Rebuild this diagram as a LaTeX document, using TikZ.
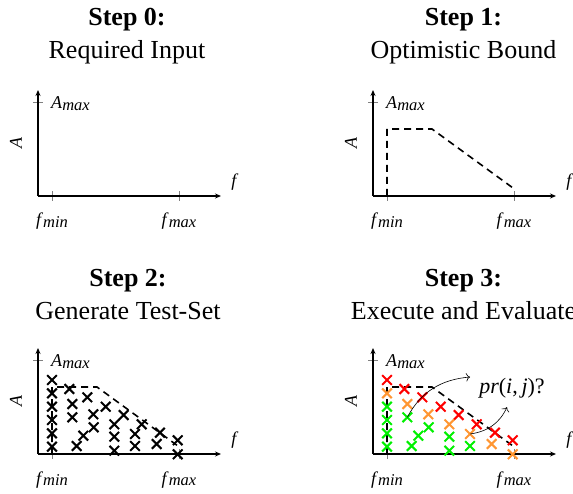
\documentclass[tikz,border=0pt]{standalone}
\usepackage{fontspec}
\setmainfont{Liberation Serif}
\usetikzlibrary{arrows.meta,shapes.misc,calc}

\definecolor{passgreen}{RGB}{0,240,0}
\definecolor{warnorange}{RGB}{255,150,50}
\definecolor{failred}{RGB}{255,0,0}

% italic symbol with its index, as in the axis labels
\newcommand{\symidx}[2]{\textit{#1}\raisebox{-1.5pt}{\fontsize{16.5}{16.5}\selectfont\itshape #2}}

% test points: x offset / y offset / colour after evaluation
\newcommand{\testset}{%
  14/74/failred, 14/60.7/warnorange, 14/47.3/passgreen, 14/34/passgreen,
  14/20.7/passgreen, 14/7.3/passgreen,
  31.3/65/failred, 49.3/56.7/failred, 67.7/47.3/failred, 85.7/39/failred,
  103.7/29.7/failred, 122/21.3/failred, 139.7/13.7/failred,
  34.3/50/warnorange, 55.3/39.7/warnorange, 76.3/29.7/warnorange,
  97/20/warnorange, 118.7/10/warnorange, 139.7/-0.3/warnorange,
  34.3/36.7/passgreen, 55.7/26.7/passgreen, 45.3/18.3/passgreen,
  38.7/8/passgreen, 76.3/17.3/passgreen, 76.3/3.3/passgreen, 97/8/passgreen}

\begin{document}
\begin{tikzpicture}[x=1pt, y=1pt,
    axis/.style={line width=1.1pt, -{Stealth[length=6pt, width=5pt]}},
    tickmark/.style={gray, line width=0.5pt},
    bound/.style={line width=1.6pt, dash pattern=on 7pt off 5pt},
    lbl/.style={font=\fontsize{18}{18}\selectfont, inner sep=0pt},
    steptitle/.style={font=\fontsize{26}{33}\selectfont, align=center,
      inner sep=0pt, anchor=base},
    testpt/.style={cross out, draw, line width=2.1pt, minimum size=7.5pt,
      inner sep=0pt}]
  \useasboundingbox (0,0) rectangle (573,493);

  % titles (base = second line)
  \node[steptitle] (t0) at (127,434.5) {\textbf{Step 0:}\\Required Input};
  \node[steptitle] (t1) at (463.5,434.5) {\textbf{Step 1:}\\Optimistic Bound};
  \node[steptitle] (t2) at (128,173) {\textbf{Step 2:}\\Generate Test-Set};
  \node[steptitle] (t3) at (463.5,173) {\textbf{Step 3:}\\Execute and Evaluate};

  % the four empty plots
  \foreach \ox/\oy/\n in {38/297/0, 373/297/1, 38/39/2, 373/39/3} {
    \begin{scope}[shift={(\ox,\oy)}]
      \draw[tickmark] (14,-5) -- (14,5);
      \draw[tickmark] (141,-5) -- (141,5);
      \draw[tickmark] (-5,94) -- (5,94);
      \draw[axis] (0,0) -- (0,106);
      \draw[axis] (0,0) -- (183,0);
      \node[lbl, anchor=base west] (amax\n) at (13,87) {\symidx{A}{max}};
      \node[lbl, rotate=90] (ylab\n) at (-22,53) {\textit{A}};
      \node[lbl] (xlab\n) at (197,14) {\textit{f}};
      \node[lbl, anchor=base] (fmin\n) at (14,-30) {\symidx{f}{min}};
      \node[lbl, anchor=base] (fmax\n) at (141,-30) {\symidx{f}{max}};
    \end{scope}
  }

  % optimistic bound
  \foreach \ox/\oy in {373/297, 38/39, 373/39} {
    \draw[bound, shift={(\ox,\oy)}] (14,0) -- (14,67) -- (59,67) -- (140,8);
  }

  % test set, unevaluated
  \begin{scope}[shift={(38,39)}]
    \foreach \x/\y/\c [count=\i] in \testset {
      \node[testpt] (x2-\i) at (\x,\y) {};
    }
  \end{scope}

  % test set, evaluated
  \begin{scope}[shift={(373,39)}]
    \foreach \x/\y/\c [count=\i] in \testset {
      \node[testpt, \c] (x3-\i) at (\x,\y) {};
    }
    \node[font=\fontsize{22}{22}\selectfont, inner sep=0pt] (pr) at (139,66)
      {\textit{pr}(\textit{i},\,\textit{j})?};
    \coordinate (toA) at ($(pr.west)+(-9,11)$);
    \coordinate (toB) at ($(pr.south)+(-5,-9)$);
    \draw[-{To[length=4pt]}, line width=0.6pt] (x3-20.center) to[out=62, in=185] (toA);
    \draw[-{To[length=4pt]}, line width=0.6pt] (x3-17.center) to[out=8, in=-115] (toB);
  \end{scope}
\end{tikzpicture}
\end{document}
